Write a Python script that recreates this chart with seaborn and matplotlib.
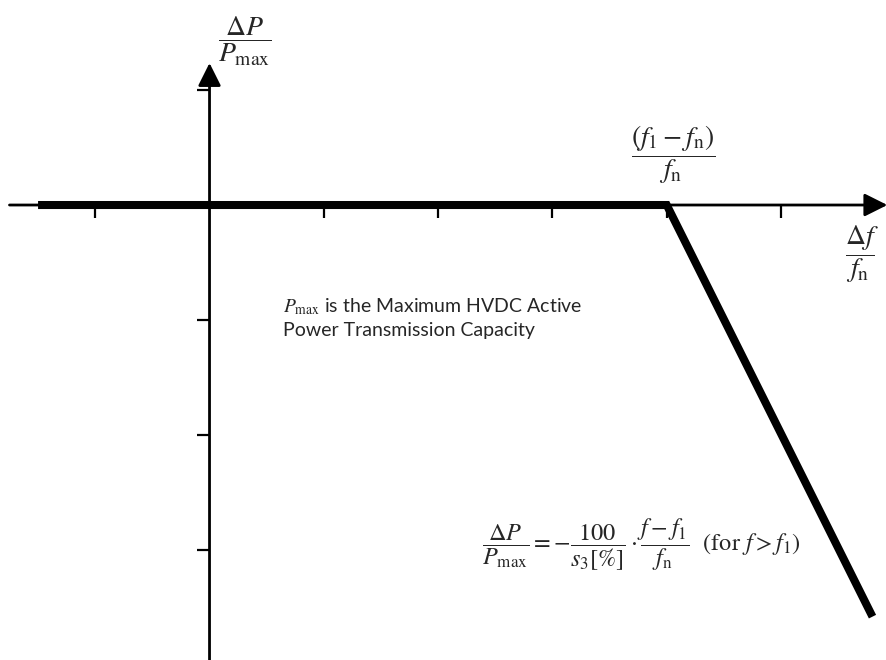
import matplotlib
matplotlib.use("Agg")
import matplotlib.pyplot as plt
import seaborn as sns
import numpy as np

# characteristic: delta f / f_n (x) against delta P / P_max (y), in tick units
df_fn = [-1.5, 4.0, 5.8]
dp_pmax = [0.0, 0.0, -3.58]
x_ticks = [-1, 1, 2, 3, 4, 5]
y_ticks = [1, -1, -2, -3]

W, H = 887, 660
sns.set_theme(style="white")
plt.rcParams['font.family'] = ['Lato', 'DejaVu Sans']
plt.rcParams['mathtext.fontset'] = 'stix'

fig = plt.figure(figsize=(W / 100, H / 100), dpi=100)
ax = fig.add_axes([0, 0, 1, 1])
ax.set_xlim(-1.833, 5.927)
ax.set_ylim(-3.957, 1.783)

# axes through origin, spines only used to carry the ticks
for s in ['top', 'right']:
	ax.spines[s].set_visible(False)
ax.spines['bottom'].set_position(('data', 0))
ax.spines['left'].set_position(('data', 0))
ax.spines['bottom'].set_visible(False)
ax.spines['left'].set_visible(False)
ax.set_xticks(x_ticks)
ax.set_yticks(y_ticks)
ax.set_xticklabels([])
ax.set_yticklabels([])
ax.tick_params(axis='both', direction='out', length=9.5, width=1.6, color='black')
ax.tick_params(axis='x', bottom=True)
ax.tick_params(axis='y', left=True)

arrow = dict(arrowstyle='-|>,head_length=0.5,head_width=0.25', lw=2.0, color='black',
	mutation_scale=28, shrinkA=0, shrinkB=0)
ax.annotate('', xy=(5.93, 0), xytext=(-1.75, 0), arrowprops=arrow)
ax.annotate('', xy=(0, 1.235), xytext=(0, -3.96), arrowprops=arrow)

sns.lineplot(x=df_fn, y=dp_pmax, sort=False, color='black', lw=5.8, ax=ax,
	solid_joinstyle='miter', solid_capstyle='butt')

def px(x, y):
	return x / W, 1 - y / H

fig.text(*px(245, 41), r'$\dfrac{\Delta P}{P_{\mathrm{max}}}$', ha='center', va='center', fontsize=20)
fig.text(*px(673, 155), r'$\dfrac{(f_1-f_{\mathrm{n}})}{f_{\mathrm{n}}}$', ha='center', va='center', fontsize=20)
fig.text(*px(862, 254), r'$\dfrac{\Delta f}{f_{\mathrm{n}}}$', ha='center', va='center', fontsize=20)
fig.text(*px(283, 307), r'$P_{\mathrm{max}}$ is the Maximum HVDC Active', ha='left', va='center', fontsize=14)
fig.text(*px(283, 331), 'Power Transmission Capacity', ha='left', va='center', fontsize=14)
fig.text(*px(482, 545), r'$\dfrac{\Delta P}{P_{\mathrm{max}}}=-\dfrac{100}{s_3[\%]}\cdot\dfrac{f-f_1}{f_{\mathrm{n}}}$  $(\mathrm{for}\ f>f_1)$',
	ha='left', va='center', fontsize=17.5)

fig.savefig('out.png', dpi=100)
